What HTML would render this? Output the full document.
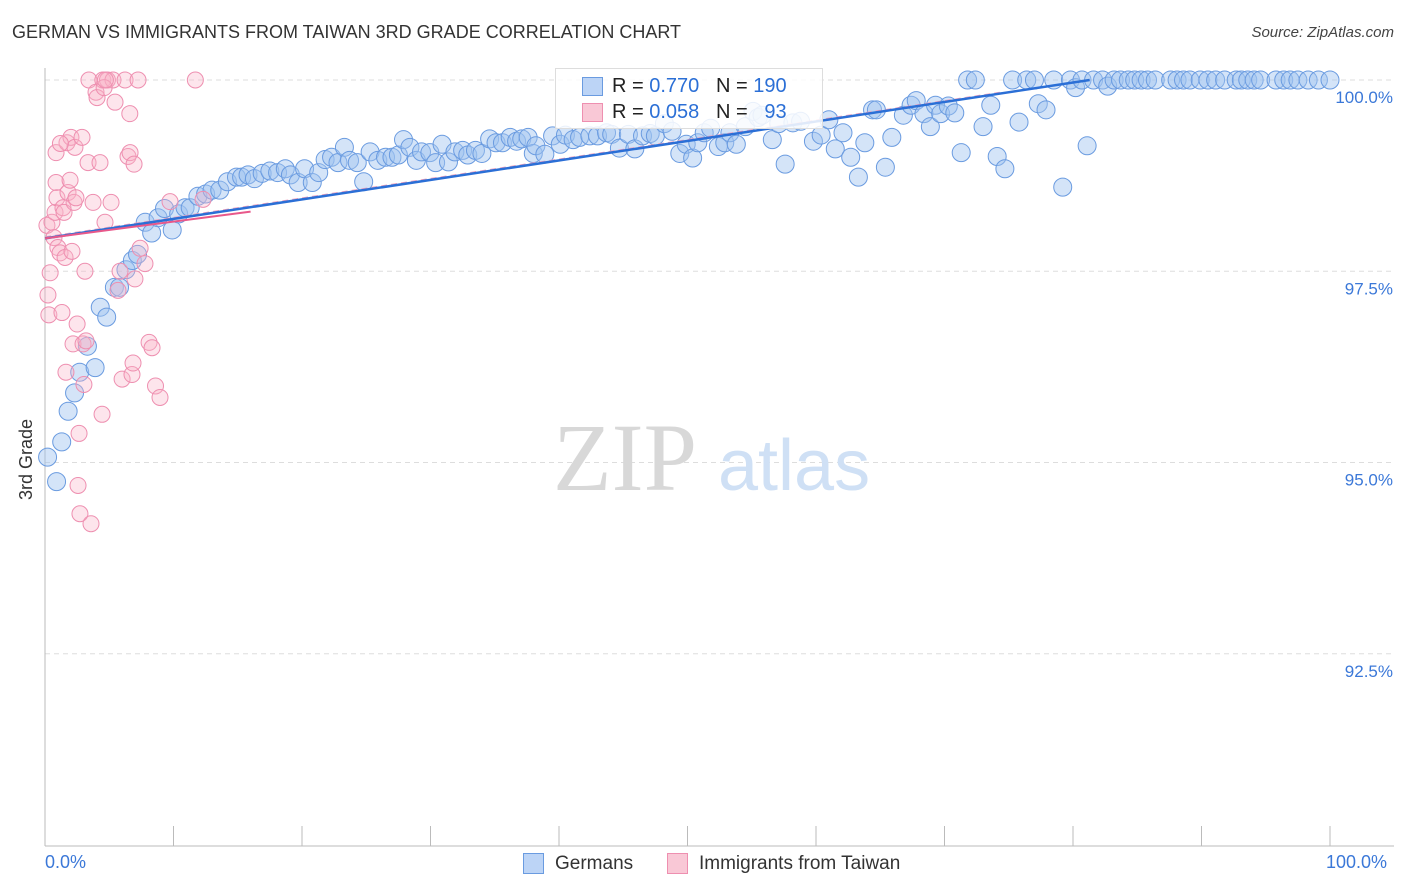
<!DOCTYPE html>
<html><head><meta charset="utf-8">
<style>
body{margin:0;background:#fff;font-family:"Liberation Sans",sans-serif;}
#wrap{position:relative;width:1406px;height:892px;overflow:hidden;}
.t{position:absolute;white-space:nowrap;}
</style></head>
<body>
<div id="wrap">
<div class="t" style="left:12px;top:22px;font-size:18px;color:#333;">GERMAN VS IMMIGRANTS FROM TAIWAN 3RD GRADE CORRELATION CHART</div>
<div class="t" style="right:12px;top:24px;font-size:15px;color:#444;font-style:italic;">Source: ZipAtlas.com</div>
<svg id="svg" width="1406" height="892" style="position:absolute;left:0;top:0"></svg>
</div>
<script>
const NS="http://www.w3.org/2000/svg";
const svg=document.getElementById('svg');
const yTicks=[100,97.5,95,92.5];
const yTickLabels=["100.0%","97.5%","95.0%","92.5%"];
const blueX=[0.2,0.9,1.3,1.8,2.3,2.7,3.3,3.9,4.3,4.8,5.4,5.8,6.3,6.8,7.2,7.8,8.3,8.8,9.3,9.9,10.4,10.9,11.3,11.9,12.5,13.0,13.6,14.2,14.9,15.3,15.8,16.3,16.9,17.5,18.1,18.7,19.1,19.7,20.2,20.8,21.3,21.8,22.3,22.8,23.3,23.7,24.3,24.8,25.3,25.9,26.5,27.0,27.5,27.9,28.4,28.9,29.3,29.95,30.4,30.9,31.4,31.9,32.5,32.9,33.5,34.0,34.6,35.1,35.6,36.2,36.7,37.1,37.6,38.0,38.2,38.9,39.5,40.1,40.5,41.1,41.6,42.4,43.0,43.7,44.1,44.7,45.4,45.9,46.5,47.1,47.5,48.2,48.8,49.4,49.9,50.4,50.8,51.3,51.8,52.4,52.9,53.3,53.8,54.5,55.1,55.5,55.8,56.6,57.1,57.6,58.2,58.8,59.8,60.4,61.0,61.5,62.1,62.7,63.3,63.8,64.4,64.7,65.4,65.9,66.8,67.4,67.8,68.4,68.9,69.3,69.7,70.3,70.8,71.3,71.8,72.4,73.0,73.6,74.1,74.7,75.3,75.8,76.4,77.0,77.3,77.9,78.5,79.2,79.8,80.2,80.7,81.1,81.6,82.3,82.7,83.2,83.7,84.3,84.8,85.3,85.8,86.4,87.6,88.1,88.6,89.1,89.9,90.5,91.1,91.8,92.7,93.1,93.6,94.1,94.6,95.8,96.4,96.9,97.5,98.3,99.1,100];
const blueY=[95.07,94.75,95.27,95.67,95.91,96.18,96.52,96.24,97.03,96.9,97.29,97.29,97.52,97.64,97.72,98.14,98.0,98.2,98.32,98.04,98.25,98.33,98.33,98.48,98.51,98.56,98.56,98.67,98.73,98.73,98.76,98.71,98.78,98.81,98.79,98.84,98.76,98.66,98.84,98.66,98.79,98.96,98.99,98.92,99.12,98.95,98.92,98.67,99.06,98.95,98.99,98.99,99.02,99.22,99.12,98.95,99.06,99.05,98.92,99.16,98.93,99.06,99.08,99.02,99.08,99.04,99.23,99.18,99.18,99.25,99.2,99.23,99.25,99.04,99.14,99.03,99.27,99.16,99.28,99.22,99.25,99.27,99.27,99.31,99.29,99.11,99.29,99.1,99.27,99.3,99.27,99.43,99.33,99.04,99.16,98.98,99.18,99.31,99.37,99.13,99.18,99.31,99.16,99.39,99.59,99.51,99.54,99.22,99.43,98.9,99.44,99.46,99.2,99.28,99.48,99.1,99.31,98.99,98.73,99.18,99.61,99.61,98.86,99.25,99.54,99.67,99.73,99.56,99.39,99.67,99.56,99.66,99.57,99.05,100,100,99.39,99.67,99.0,98.84,100,99.45,100,100,99.69,99.61,100,98.6,100,99.9,100,99.14,100,100,99.92,100,100,100,100,100,100,100,100,100,100,100,100,100,100,100,100,100,100,100,100,100,100,100,100,100,100,100,100,100,100,100,100,100,100,100,100,100,100,100,100,99.83];
const pinkX=[0.15,0.23,0.3,0.4,0.54,0.7,0.78,0.86,0.86,0.93,1.0,1.17,1.32,1.4,1.48,1.56,1.63,1.71,1.79,1.95,2.02,2.1,2.18,2.26,2.33,2.41,2.5,2.57,2.65,2.72,2.88,2.96,3.03,3.11,3.19,3.35,3.42,3.58,3.74,3.97,4.05,4.28,4.44,4.5,4.67,4.86,5.14,5.29,5.45,5.68,5.84,6.0,6.23,6.46,6.62,6.77,6.85,6.93,7.0,7.24,7.4,7.78,8.1,8.33,8.6,8.95,9.73,11.7,12.3,6.6,4.6,4.7,1.2];
const pinkY=[98.1,97.19,96.93,97.48,98.14,97.94,98.27,98.66,99.05,98.46,97.81,97.74,96.96,98.33,98.27,97.68,96.18,99.18,98.53,98.69,99.25,97.76,96.55,98.4,99.12,98.46,96.81,94.7,95.38,94.33,99.25,96.55,96.02,97.5,96.59,98.92,100,94.2,98.4,99.84,99.77,98.92,95.63,100,98.14,100,98.4,100,99.71,97.25,97.5,96.09,100,99.0,99.05,96.15,96.3,98.9,97.4,100,97.8,97.6,96.57,96.5,96.0,95.85,98.41,100,98.44,99.56,99.9,100,99.17];
const X0=45,X1=1330,Y100=80,PX_PER=76.5;
const xs=v=>X0+(v/100)*(X1-X0);
const ys=v=>Y100+(100-v)*PX_PER;
function el(tag,a,parent){const e=document.createElementNS(NS,tag);for(const k in a)e.setAttribute(k,a[k]);(parent||svg).appendChild(e);return e;}
yTicks.forEach((t,i)=>{
 const g=el('line',{x1:45,x2:1394,y1:ys(t),y2:ys(t),stroke:'#ddd','stroke-dasharray':'5,4'});
 
 
 const tx=el('text',{x:1393,y:ys(t)+23,'text-anchor':'end','font-size':17,fill:'#3b78d8','font-family':'Liberation Sans'});
 tx.textContent=yTickLabels[i];
 
 
});
const ya=el('line',{x1:45,x2:45,y1:68,y2:846,stroke:'#bbb'});


const xa=el('line',{x1:45,x2:1394,y1:846,y2:846,stroke:'#bbb'});


for(let i=0;i<=10;i++){const x=xs(i*10);const tk=el('line',{x1:x,x2:x,y1:826,y2:846,stroke:'#bbb'});

}
const wm=el('text',{x:553,y:490,'font-size':96,fill:'#d8d8d8','font-family':'Liberation Serif'});wm.textContent='ZIP';


const wm2=el('text',{x:718,y:490,'font-size':72,fill:'#cfe0f5','font-family':'Liberation Sans'});wm2.textContent='atlas';


blueX.forEach((x,i)=>{const c=el('circle',{cx:xs(x),cy:ys(blueY[i]),r:9,fill:'rgba(160,195,240,0.45)',stroke:'#6a9be0','stroke-width':1});

});
pinkX.forEach((x,i)=>{const c=el('circle',{cx:xs(x),cy:ys(pinkY[i]),r:8,fill:'rgba(248,180,200,0.35)',stroke:'#ee8fb0','stroke-width':1});

});
const pd=el('line',{x1:xs(0),y1:ys(97.95),x2:xs(74.3),y2:ys(99.84),stroke:'#f0a0bb','stroke-width':1,'stroke-dasharray':'6,4'});


const bt=el('line',{x1:xs(0),y1:ys(97.93),x2:xs(81.3),y2:ys(100),stroke:'#2b6fd6','stroke-width':2.5});


const pt=el('line',{x1:xs(0),y1:ys(97.93),x2:xs(16),y2:ys(98.28),stroke:'#e8588a','stroke-width':2});


</script>
<div class="t" style="left:16px;top:500px;transform:rotate(-90deg);transform-origin:left top;font-size:18px;color:#333;">3rd Grade</div>
<div class="t" style="left:45px;top:852px;font-size:18px;color:#3b78d8;">0.0%</div>
<div class="t" style="left:1326px;top:852px;font-size:18px;color:#3b78d8;">100.0%</div>
<div class="t" style="left:555px;top:68px;width:266px;height:59px;border:1px solid #ddd;background:rgba(255,255,255,0.85);">
 <div style="position:absolute;left:26px;top:8px;width:19px;height:17px;background:#bcd4f6;border:1px solid #6a9be0"></div>
 <div style="position:absolute;left:56px;top:6px;font-size:20px;color:#222">R = <span style="color:#2b6fd6">0.770</span>&nbsp;&nbsp;&nbsp;N = <span style="color:#2b6fd6">190</span></div>
 <div style="position:absolute;left:26px;top:34px;width:19px;height:17px;background:#f9c8d6;border:1px solid #ee8fb0"></div>
 <div style="position:absolute;left:56px;top:32px;font-size:20px;color:#222">R = <span style="color:#2b6fd6">0.058</span>&nbsp;&nbsp;&nbsp;N = &nbsp;&nbsp;<span style="color:#2b6fd6">93</span></div>
</div>
<div class="t" style="left:523px;top:853px;width:19px;height:19px;background:#bcd4f6;border:1px solid #6a9be0"></div>
<div class="t" style="left:555px;top:853px;font-size:19px;color:#333">Germans</div>
<div class="t" style="left:667px;top:853px;width:19px;height:19px;background:#f9c8d6;border:1px solid #ee8fb0"></div>
<div class="t" style="left:699px;top:853px;font-size:19px;color:#333">Immigrants from Taiwan</div>
</body></html>
